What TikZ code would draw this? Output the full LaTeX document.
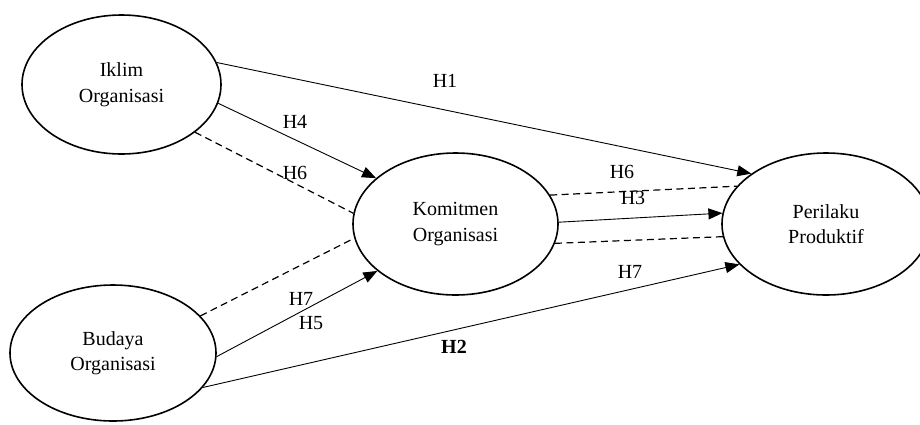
\documentclass[tikz,border=0pt]{standalone}
\usepackage{fontspec}
\setmainfont{Liberation Serif}
\usetikzlibrary{shapes.geometric,arrows.meta}
\begin{document}
\begin{tikzpicture}[x=1pt,y=-1pt,
  construct/.style={draw,ellipse,line width=1.6pt,inner sep=0pt,align=center,
    font=\fontsize{20}{25.5}\selectfont},
  path/.style={draw,line width=0.9pt,-{Triangle[length=14pt,width=11pt]}},
  med/.style={draw,line width=1.2pt,dash pattern=on 7pt off 4.5pt},
  lbl/.style={font=\fontsize{20}{24}\selectfont,inner sep=0pt}]
\useasboundingbox (0,0) rectangle (920,424);
\node[construct,minimum width=199pt,minimum height=139pt] (iklim) at (121.5,84.5) {Iklim\\Organisasi};
\node[construct,minimum width=206pt,minimum height=136pt] (budaya) at (113,353) {Budaya\\Organisasi};
\node[construct,minimum width=205pt,minimum height=142pt] (komit) at (455.5,224) {Komitmen\\Organisasi};
\node[construct,minimum width=208pt,minimum height=142pt] (peri) at (826,224) {Perilaku\\Produktif};
% direct paths
\draw[path] (iklim.13.8) -- (peri.146.5);
\draw[path] (iklim.-11.3) -- (komit.150);
\draw[path] (budaya.-2) -- (komit.211.8);
\draw[path] (budaya.-21) -- (peri.205);
\draw[path] (komit.1) -- (peri.174.2);
% mediation (dashed)
\draw[med] (iklim.-33.8) -- (komit.174);
\draw[med] (budaya.23) -- (komit.188);
\draw[med] (komit.17.6) -- (peri.157.9);
\draw[med] (komit.-11.4) -- (peri.187);
% labels
\node[lbl] (h1) at (445,81) {H1};
\node[lbl] (h4) at (295,122) {H4};
\node[lbl] (h6a) at (295,173) {H6};
\node[lbl] (h6b) at (622,172) {H6};
\node[lbl] (h3) at (633,197.5) {H3};
\node[lbl] (h7a) at (301,299) {H7};
\node[lbl] (h5) at (311,323) {H5};
\node[lbl] (h2) at (454,347) {\textbf{H2}};
\node[lbl] (h7b) at (630,272) {H7};
\end{tikzpicture}
\end{document}
